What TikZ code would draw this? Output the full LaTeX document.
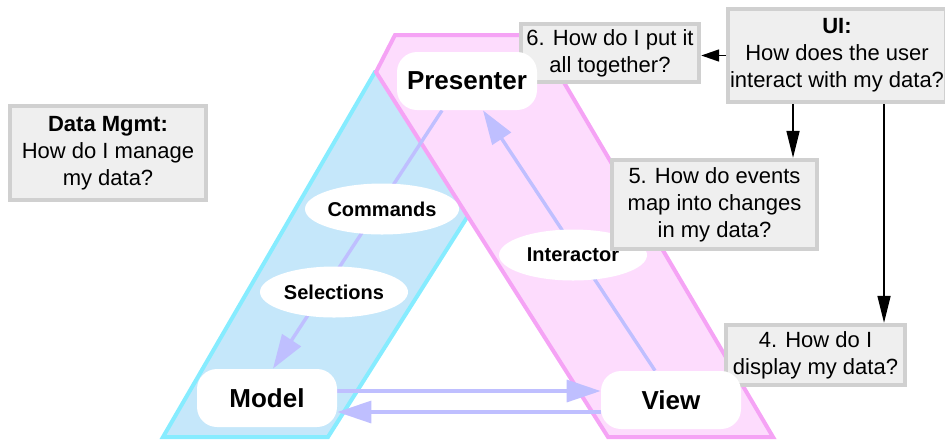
\documentclass[tikz,border=0pt]{standalone}
\usepackage{fontspec}
\setmainfont{Liberation Sans}
\usetikzlibrary{shapes.geometric,arrows.meta}
\definecolor{modelfill}{HTML}{C5E7FA}
\definecolor{modelline}{HTML}{86ECFF}
\definecolor{viewfill}{HTML}{FDDCFD}
\definecolor{viewline}{HTML}{F5A3F5}
\definecolor{flowcol}{HTML}{BFBFFF}
\definecolor{boxfill}{HTML}{EFEFEF}
\definecolor{boxline}{HTML}{D0D0D0}
\pgfdeclarelayer{band}
\pgfdeclarelayer{flow}
\pgfsetlayers{band,flow,main}

\begin{document}
\begin{tikzpicture}[x=0.5pt,y=-0.5pt,
	mvp/.style={draw=none,fill=white,rounded corners=10pt,minimum width=70pt,minimum height=29pt,inner sep=0,font=\fontsize{13}{15}\selectfont\bfseries},
	lab/.style={ellipse,fill=white,inner sep=0,minimum width=74pt,minimum height=25.5pt,font=\fontsize{10}{12}\selectfont\bfseries},
	qbox/.style={draw=boxline,line width=2.2pt,fill=boxfill,inner sep=1pt,align=center,font=\fontsize{11}{13.5}\selectfont},
	flowarrow/.style={draw=flowcol,line width=1.7pt,-{Triangle[length=17pt,width=11pt]}},
	askarrow/.style={draw=black,line width=0.8pt,-{Triangle[length=13.5pt,width=6.5pt]}}]
	\useasboundingbox (0,0) rectangle (945,440);
	\begin{pgfonlayer}{band}
	\draw[fill=modelfill,draw=modelline,line width=2pt] (163,437) -- (375,72) -- (559,72) -- (328,437) -- cycle;
	\draw[fill=viewfill,draw=viewline,line width=2pt] (376,72) -- (395,35) -- (536,35) -- (773,437) -- (608,437) -- cycle;
	\end{pgfonlayer}
	\node[qbox,minimum width=98pt,minimum height=47pt] (dm) at (108,153) {\textbf{Data Mgmt:}\\How do I manage\\my data?};
	\node[qbox,minimum width=108pt,minimum height=46.5pt] (ui) at (837,55.5) {\textbf{UI:}\\How does the user\\interact with my data?};
	\node[qbox,minimum width=89pt,minimum height=29pt] (6) at (610,53) {6. How do I put it\\all together?};
	\node[qbox,minimum width=89.5pt,minimum height=30pt] (4) at (815.5,355) {4. How do I\\display my data?};
	\node[mvp] (presenter) at (467,81) {Presenter};
	\node[mvp] (model) at (267,398) {Model};
	\node[mvp] (view) at (671,400) {View};
	\node[lab] (commands) at (382,209) {Commands};
	\node[lab] (selections) at (334,292) {Selections};
	\node[lab] (interactor) at (573,255) {Interactor};
	\node[qbox,minimum width=102.5pt,minimum height=44.5pt] (5) at (714.5,204.5) {5. How do events\\map into changes\\in my data?};
	\begin{pgfonlayer}{flow}
	\draw[flowarrow] ([xshift=-12.5pt]presenter.south) -- ([xshift=3pt]model.north);
	\draw[flowarrow] ([xshift=-8pt]view.north) -- ([xshift=8pt]presenter.south);
	\draw[flowarrow] ([yshift=3.5pt]model.east) -- ([yshift=3.5pt]model.east -| view.west);
	\draw[flowarrow] ([yshift=-6pt]view.west) -- ([yshift=-6pt]view.west -| model.east);
	\end{pgfonlayer}
	\draw[askarrow,-{Triangle[length=9pt,width=6pt]}] (ui.west) -- (ui.west -| 6.east);
	\draw[askarrow] ([xshift=-22pt]ui.south) -- ([xshift=-22pt]ui.south |- 5.north);
	\draw[askarrow] ([xshift=23.5pt]ui.south) -- ([xshift=23.5pt]ui.south |- 4.north);
\end{tikzpicture}
\end{document}
